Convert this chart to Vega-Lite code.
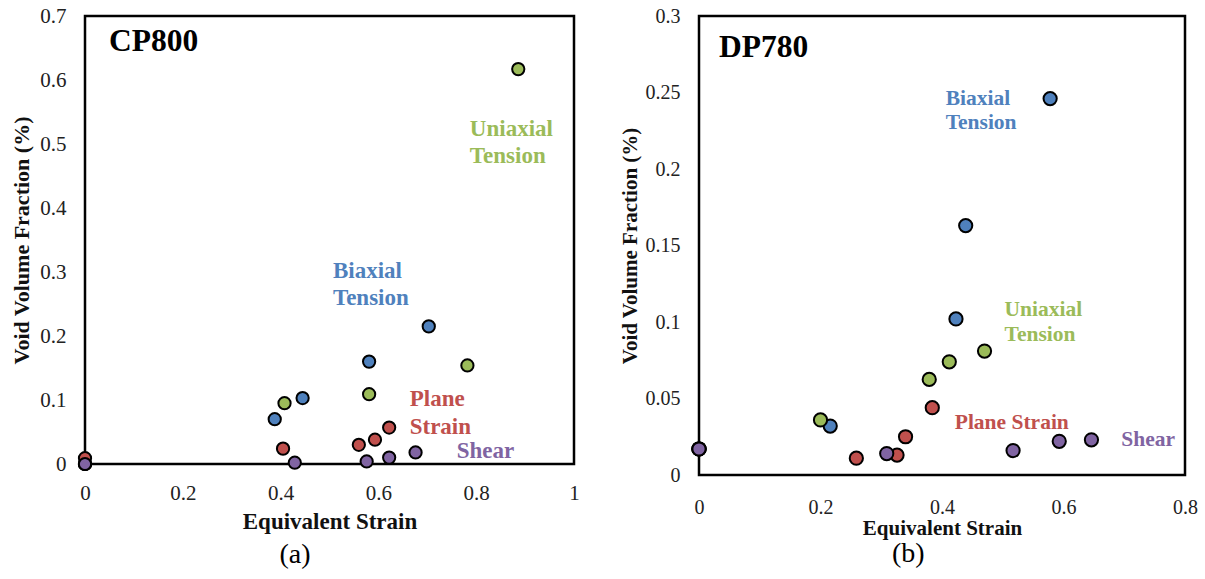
{
  "$schema": "https://vega.github.io/schema/vega-lite/v6.json",
  "background": "white",
  "padding": {"left": 9, "top": 3, "right": 0, "bottom": 0},
  "spacing": 36,
  "datasets": {
    "points": [
      {"panel": "CP800", "series": "Biaxial Tension", "strain": 0, "vvf": 0},
      {"panel": "CP800", "series": "Biaxial Tension", "strain": 0.388, "vvf": 0.070},
      {"panel": "CP800", "series": "Biaxial Tension", "strain": 0.445, "vvf": 0.103},
      {"panel": "CP800", "series": "Biaxial Tension", "strain": 0.581, "vvf": 0.160},
      {"panel": "CP800", "series": "Biaxial Tension", "strain": 0.703, "vvf": 0.215},
      {"panel": "CP800", "series": "Uniaxial Tension", "strain": 0, "vvf": 0},
      {"panel": "CP800", "series": "Uniaxial Tension", "strain": 0.408, "vvf": 0.095},
      {"panel": "CP800", "series": "Uniaxial Tension", "strain": 0.581, "vvf": 0.109},
      {"panel": "CP800", "series": "Uniaxial Tension", "strain": 0.782, "vvf": 0.154},
      {"panel": "CP800", "series": "Uniaxial Tension", "strain": 0.886, "vvf": 0.617},
      {"panel": "CP800", "series": "Plane Strain", "strain": 0, "vvf": 0.009},
      {"panel": "CP800", "series": "Plane Strain", "strain": 0.405, "vvf": 0.024},
      {"panel": "CP800", "series": "Plane Strain", "strain": 0.560, "vvf": 0.030},
      {"panel": "CP800", "series": "Plane Strain", "strain": 0.593, "vvf": 0.038},
      {"panel": "CP800", "series": "Plane Strain", "strain": 0.622, "vvf": 0.057},
      {"panel": "CP800", "series": "Shear", "strain": 0, "vvf": 0},
      {"panel": "CP800", "series": "Shear", "strain": 0.429, "vvf": 0.002},
      {"panel": "CP800", "series": "Shear", "strain": 0.576, "vvf": 0.004},
      {"panel": "CP800", "series": "Shear", "strain": 0.622, "vvf": 0.010},
      {"panel": "CP800", "series": "Shear", "strain": 0.676, "vvf": 0.018},
      {"panel": "DP780", "series": "Biaxial Tension", "strain": 0, "vvf": 0.017},
      {"panel": "DP780", "series": "Biaxial Tension", "strain": 0.216, "vvf": 0.032},
      {"panel": "DP780", "series": "Biaxial Tension", "strain": 0.423, "vvf": 0.102},
      {"panel": "DP780", "series": "Biaxial Tension", "strain": 0.439, "vvf": 0.163},
      {"panel": "DP780", "series": "Biaxial Tension", "strain": 0.578, "vvf": 0.246},
      {"panel": "DP780", "series": "Uniaxial Tension", "strain": 0, "vvf": 0.017},
      {"panel": "DP780", "series": "Uniaxial Tension", "strain": 0.200, "vvf": 0.036},
      {"panel": "DP780", "series": "Uniaxial Tension", "strain": 0.379, "vvf": 0.0625},
      {"panel": "DP780", "series": "Uniaxial Tension", "strain": 0.412, "vvf": 0.074},
      {"panel": "DP780", "series": "Uniaxial Tension", "strain": 0.470, "vvf": 0.081},
      {"panel": "DP780", "series": "Plane Strain", "strain": 0, "vvf": 0.017},
      {"panel": "DP780", "series": "Plane Strain", "strain": 0.259, "vvf": 0.011},
      {"panel": "DP780", "series": "Plane Strain", "strain": 0.326, "vvf": 0.013},
      {"panel": "DP780", "series": "Plane Strain", "strain": 0.340, "vvf": 0.025},
      {"panel": "DP780", "series": "Plane Strain", "strain": 0.384, "vvf": 0.044},
      {"panel": "DP780", "series": "Shear", "strain": 0, "vvf": 0.017},
      {"panel": "DP780", "series": "Shear", "strain": 0.309, "vvf": 0.014},
      {"panel": "DP780", "series": "Shear", "strain": 0.517, "vvf": 0.016},
      {"panel": "DP780", "series": "Shear", "strain": 0.593, "vvf": 0.022},
      {"panel": "DP780", "series": "Shear", "strain": 0.646, "vvf": 0.023}
    ],
    "labels": [
      {"panel": "CP800", "kind": "name", "series": "Name", "text": "CP800", "strain": 0.049, "vvf": 0.659},
      {"panel": "CP800", "kind": "note", "series": "Uniaxial Tension", "text": "Uniaxial", "strain": 0.787, "vvf": 0.523},
      {"panel": "CP800", "kind": "note", "series": "Uniaxial Tension", "text": "Tension", "strain": 0.787, "vvf": 0.481},
      {"panel": "CP800", "kind": "note", "series": "Biaxial Tension", "text": "Biaxial", "strain": 0.507, "vvf": 0.301},
      {"panel": "CP800", "kind": "note", "series": "Biaxial Tension", "text": "Tension", "strain": 0.507, "vvf": 0.259},
      {"panel": "CP800", "kind": "note", "series": "Plane Strain", "text": "Plane", "strain": 0.664, "vvf": 0.102},
      {"panel": "CP800", "kind": "note", "series": "Plane Strain", "text": "Strain", "strain": 0.664, "vvf": 0.058},
      {"panel": "CP800", "kind": "note", "series": "Shear", "text": "Shear", "strain": 0.760, "vvf": 0.020},
      {"panel": "DP780", "kind": "name", "series": "Name", "text": "DP780", "strain": 0.033, "vvf": 0.279},
      {"panel": "DP780", "kind": "note", "series": "Biaxial Tension", "text": "Biaxial", "strain": 0.406, "vvf": 0.246},
      {"panel": "DP780", "kind": "note", "series": "Biaxial Tension", "text": "Tension", "strain": 0.406, "vvf": 0.230},
      {"panel": "DP780", "kind": "note", "series": "Uniaxial Tension", "text": "Uniaxial", "strain": 0.503, "vvf": 0.108},
      {"panel": "DP780", "kind": "note", "series": "Uniaxial Tension", "text": "Tension", "strain": 0.503, "vvf": 0.0916},
      {"panel": "DP780", "kind": "note", "series": "Plane Strain", "text": "Plane Strain", "strain": 0.421, "vvf": 0.034},
      {"panel": "DP780", "kind": "note", "series": "Shear", "text": "Shear", "strain": 0.695, "vvf": 0.023}
    ]
  },
  "hconcat": [
    {
      "width": 489,
      "height": 448,
      "title": {"text": "(a)", "orient": "bottom", "frame": "bounds", "anchor": "middle", "offset": 8, "font": "Liberation Serif", "fontSize": 28, "fontWeight": "normal", "color": "black"},
      "encoding": {
        "x": {"field": "strain", "type": "quantitative", "scale": {"domain": [0, 1], "nice": false},
              "axis": {"title": "Equivalent Strain", "values": [0, 0.2, 0.4, 0.6, 0.8, 1], "format": "~g", "labelFlush": false, "labelFontSize": 21, "titleFontSize": 23, "labelPadding": 18, "titlePadding": 7}},
        "y": {"field": "vvf", "type": "quantitative", "scale": {"domain": [0, 0.7], "nice": false},
              "axis": {"title": "Void Volume Fraction (%)", "values": [0, 0.1, 0.2, 0.3, 0.4, 0.5, 0.6, 0.7], "format": "~g", "labelFlush": false, "labelFontSize": 21, "titleFontSize": 22, "labelPadding": 19, "titlePadding": 6}}
      },
      "layer": [
        {
          "data": {"name": "points"},
          "transform": [{"filter": "datum.panel === 'CP800'"}],
          "mark": {"type": "point", "shape": "circle", "filled": true, "size": 150, "stroke": "black", "strokeWidth": 2, "opacity": 1},
          "encoding": {"fill": {"field": "series", "type": "nominal", "scale": {"domain": ["Biaxial Tension", "Uniaxial Tension", "Plane Strain", "Shear", "Name"], "range": ["#4F81BD", "#9BBB59", "#C0504D", "#8064A2", "#000000"]}, "legend": null}}
        },
        {
          "data": {"name": "labels"},
          "transform": [{"filter": "datum.panel === 'CP800' && datum.kind === 'note'"}],
          "mark": {"type": "text", "align": "left", "baseline": "middle", "font": "Liberation Serif", "fontWeight": "bold", "fontSize": 23},
          "encoding": {"text": {"field": "text"}, "fill": {"field": "series", "type": "nominal", "legend": null}}
        },
        {
          "data": {"name": "labels"},
          "transform": [{"filter": "datum.panel === 'CP800' && datum.kind === 'name'"}],
          "mark": {"type": "text", "align": "left", "baseline": "middle", "font": "Liberation Serif", "fontWeight": "bold", "fontSize": 31.5, "fill": "black"},
          "encoding": {"text": {"field": "text"}}
        }
      ]
    },
    {
      "width": 486,
      "height": 459,
      "title": {"text": "(b)", "orient": "bottom", "frame": "bounds", "anchor": "middle", "offset": 2, "font": "Liberation Serif", "fontSize": 28, "fontWeight": "normal", "color": "black"},
      "encoding": {
        "x": {"field": "strain", "type": "quantitative", "scale": {"domain": [0, 0.8], "nice": false},
              "axis": {"title": "Equivalent Strain", "values": [0, 0.2, 0.4, 0.6, 0.8], "format": "~g", "labelFlush": false, "labelFontSize": 20, "titleFontSize": 21, "labelPadding": 22, "titlePadding": 0}},
        "y": {"field": "vvf", "type": "quantitative", "scale": {"domain": [0, 0.3], "nice": false},
              "axis": {"title": "Void Volume Fraction (%)", "values": [0, 0.05, 0.1, 0.15, 0.2, 0.25, 0.3], "format": "~g", "labelFlush": false, "labelFontSize": 20, "titleFontSize": 21, "labelPadding": 19, "titlePadding": 5}}
      },
      "layer": [
        {
          "data": {"name": "points"},
          "transform": [{"filter": "datum.panel === 'DP780'"}],
          "mark": {"type": "point", "shape": "circle", "filled": true, "size": 175, "stroke": "black", "strokeWidth": 2, "opacity": 1},
          "encoding": {"fill": {"field": "series", "type": "nominal", "legend": null}}
        },
        {
          "data": {"name": "labels"},
          "transform": [{"filter": "datum.panel === 'DP780' && datum.kind === 'note'"}],
          "mark": {"type": "text", "align": "left", "baseline": "middle", "font": "Liberation Serif", "fontWeight": "bold", "fontSize": 21.5},
          "encoding": {"text": {"field": "text"}, "fill": {"field": "series", "type": "nominal", "legend": null}}
        },
        {
          "data": {"name": "labels"},
          "transform": [{"filter": "datum.panel === 'DP780' && datum.kind === 'name'"}],
          "mark": {"type": "text", "align": "left", "baseline": "middle", "font": "Liberation Serif", "fontWeight": "bold", "fontSize": 31.5, "fill": "black"},
          "encoding": {"text": {"field": "text"}}
        }
      ]
    }
  ],
  "config": {
    "view": {"stroke": "black", "strokeWidth": 2.5},
    "axis": {"domain": false, "ticks": false, "tickSize": 0, "grid": false, "labelFont": "Liberation Serif", "titleFont": "Liberation Serif", "titleFontWeight": "bold", "labelColor": "#222222", "titleColor": "#111111"}
  }
}
